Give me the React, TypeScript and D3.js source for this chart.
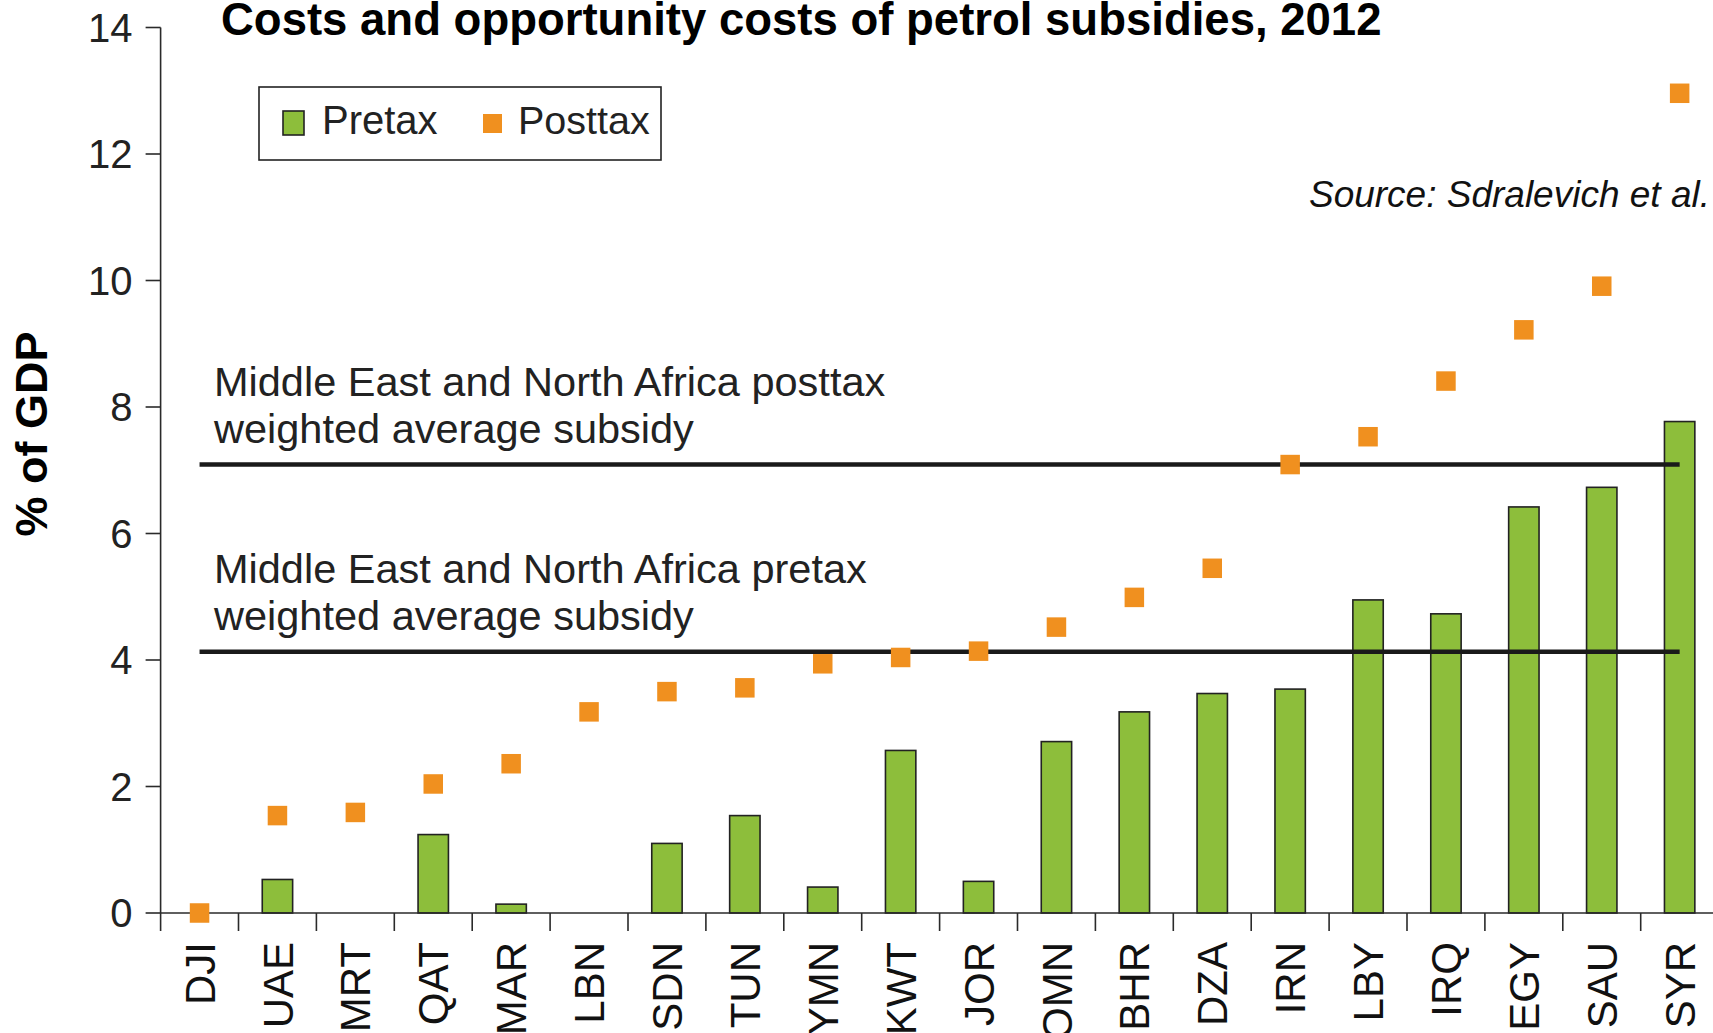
import React from "react";
import * as d3 from "d3";

const categories = ["DJI","UAE","MRT","QAT","MAR","LBN","SDN","TUN","YMN","KWT","JOR","OMN","BHR","DZA","IRN","LBY","IRQ","EGY","SAU","SYR"];
const pretax = [0,0.53,0,1.24,0.14,0,1.10,1.54,0.41,2.57,0.50,2.71,3.18,3.47,3.54,4.95,4.73,6.42,6.73,7.77];
const posttax = [0,1.54,1.59,2.04,2.36,3.18,3.50,3.56,3.94,4.04,4.14,4.52,4.99,5.45,7.09,7.53,8.41,9.22,9.91,12.96];
const yTicks = [0,2,4,6,8,10,12,14];
const refLines = [
  { value: 7.09, lines: ["Middle East and North Africa posttax", "weighted average subsidy"] },
  { value: 4.13, lines: ["Middle East and North Africa pretax", "weighted average subsidy"] },
];
const title = "Costs and opportunity costs of petrol subsidies, 2012";
const yLabel = "% of GDP";
const source = "Source: Sdralevich et al.";
const legendItems = ["Pretax", "Posttax"];

const W = 1713, H = 1033;
const GREEN = "#8dbe3b";
const ORANGE = "#f0901f";
const FONT = "'Liberation Sans', Arial, Helvetica, sans-serif";

export default function App() {
  const x0 = 160.6, bandW = 77.9;
  const x = d3.scaleBand<string>().domain(categories).range([x0, x0 + bandW * categories.length]).padding(0);
  const y = d3.scaleLinear().domain([0, 14]).range([913, 27.5]);
  const bw = x.bandwidth() * 0.39;
  const sq = 19.5;
  const cx = (c: string) => (x(c) as number) + x.bandwidth() / 2;
  const first = cx(categories[0]);
  const last = cx(categories[categories.length - 1]);
  const axisColor = "#2a2a2a";

  return (
    <svg width={W} height={H} style={{ position: "absolute", left: 0, top: 0, background: "#fff" }} fontFamily={FONT}>
      {/* title */}
      <text x={221} y={35} fontSize={45.5} fontWeight="bold" fill="#000">{title}</text>

      {/* y axis */}
      <line x1={x0} x2={x0} y1={y(0)} y2={y(14)} stroke={axisColor} strokeWidth={1.6} />
      {yTicks.map((t) => (
        <g key={t}>
          <line x1={x0 - 15} x2={x0} y1={y(t)} y2={y(t)} stroke={axisColor} strokeWidth={1.6} />
          <text x={x0 - 28} y={y(t)} dy="0.36em" textAnchor="end" fontSize={40} fill="#222">{t}</text>
        </g>
      ))}
      <text transform={`translate(${47},${434}) rotate(-90)`} textAnchor="middle" fontSize={45} fontWeight="bold" fill="#000">{yLabel}</text>

      {/* bars */}
      {categories.map((c, i) => pretax[i] > 0 ? (
        <rect key={c} x={cx(c) - bw / 2} y={y(pretax[i])} width={bw} height={y(0) - y(pretax[i])}
          fill={GREEN} stroke="#222" strokeWidth={1.6} />
      ) : null)}

      {/* x axis */}
      <line x1={x0} x2={W} y1={y(0)} y2={y(0)} stroke={axisColor} strokeWidth={1.6} />
      {categories.map((c) => (
        <line key={c} x1={x(c) as number} x2={x(c) as number} y1={y(0)} y2={y(0) + 18} stroke={axisColor} strokeWidth={1.6} />
      ))}
      {categories.map((c) => (
        <text key={c} transform={`translate(${cx(c)},${y(0) + 29}) rotate(-90)`} dy="0.36em" textAnchor="end" fontSize={42} fill="#111">{c}</text>
      ))}

      {/* reference lines */}
      {refLines.map((r) => (
        <g key={r.value}>
          <line x1={first} x2={last} y1={y(r.value)} y2={y(r.value)} stroke="#1a1a1a" strokeWidth={4.5} />
          {r.lines.map((l, j) => (
            <text key={j} x={214} y={y(r.value) - 69 + j * 47} fontSize={41.5} fill="#222">{l}</text>
          ))}
        </g>
      ))}

      {/* posttax squares */}
      {categories.map((c, i) => (
        <rect key={c} x={cx(c) - sq / 2} y={y(posttax[i]) - sq / 2} width={sq} height={sq} fill={ORANGE} />
      ))}

      {/* legend */}
      <rect x={259} y={87} width={402} height={73} fill="#fff" stroke="#222" strokeWidth={1.6} />
      <rect x={283} y={111} width={21} height={24} fill={GREEN} stroke="#222" strokeWidth={1.6} />
      <text x={322} y={134} fontSize={40} fill="#222">{legendItems[0]}</text>
      <rect x={483} y={114} width={19} height={19} fill={ORANGE} />
      <text x={518} y={134} fontSize={39.5} fill="#222">{legendItems[1]}</text>

      {/* source */}
      <text x={1710} y={207} textAnchor="end" fontSize={37} fontStyle="italic" fill="#111">{source}</text>
    </svg>
  );
}
